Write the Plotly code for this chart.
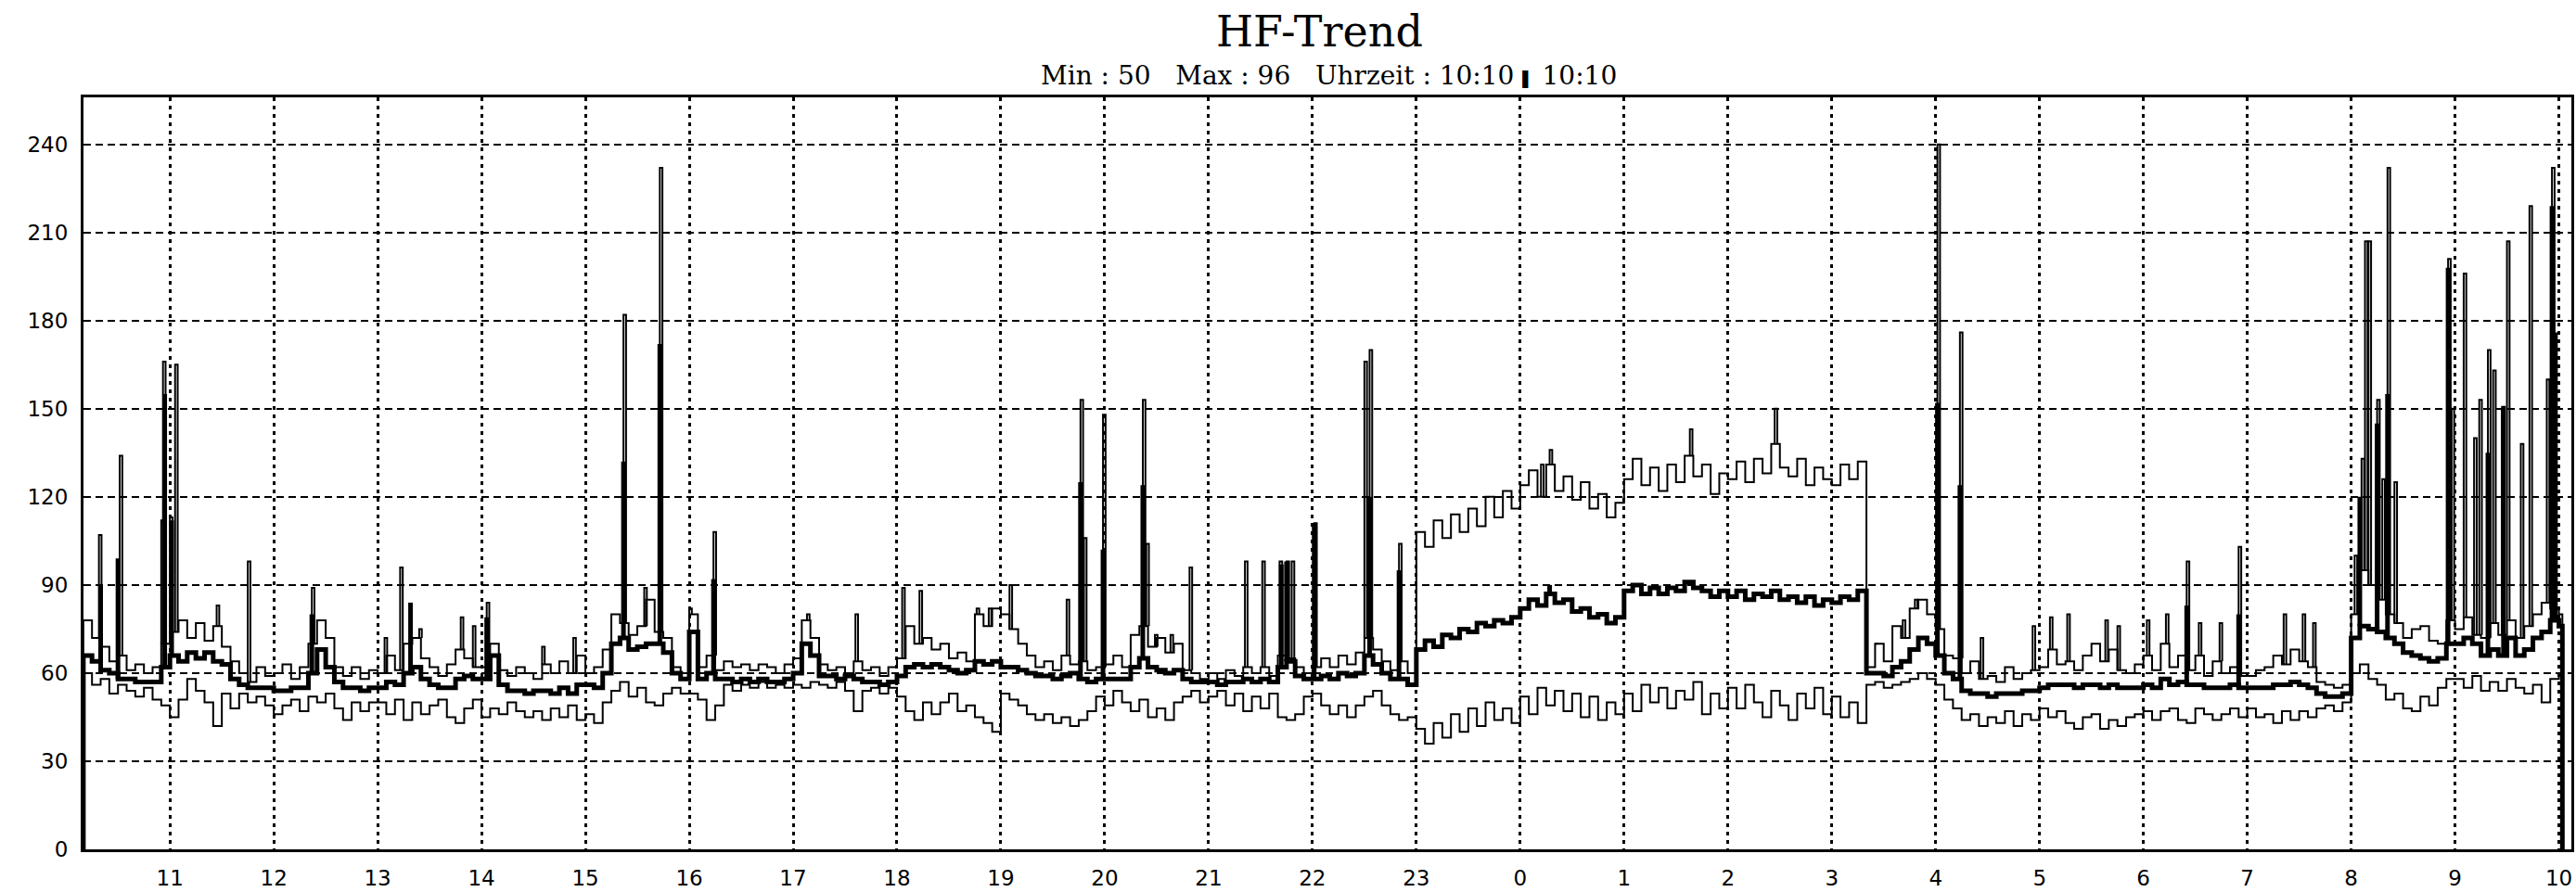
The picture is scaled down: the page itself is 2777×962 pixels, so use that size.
import plotly.graph_objects as go

# ---------------- data ----------------
START = "10:10"          # first sample
END_DROP = "10:02"       # recording stops (value drops to 0)
STEP_MIN = 5             # sampling step of the series below (minutes)
EDGE_VALUE = 0           # value at start / stop of recording

# upper envelope (thin line), one row per clock hour
UPPER = [
    78, 72, 69, 64, 66, 61, 63, 60, 62, 70,                    # 10:10-10:55
    74, 78, 72, 77, 71, 76, 69, 64, 60, 57, 62, 59,            # 11
    60, 63, 58, 62, 70, 78, 72, 62, 59, 62, 58, 61,            # 12
    60, 66, 61, 70, 72, 65, 62, 59, 63, 68, 65, 62,            # 13
    62, 70, 61, 59, 62, 60, 58, 63, 60, 64, 60, 66,            # 14
    60, 62, 68, 80, 77, 73, 76, 85, 74, 72, 62, 60,            # 15
    80, 62, 66, 61, 64, 62, 63, 61, 63, 62, 60, 63,            # 16
    65, 78, 72, 63, 61, 62, 60, 64, 61, 62, 59, 62,            # 17
    65, 76, 70, 72, 68, 70, 65, 67, 64, 80, 76, 82,            # 18
    80, 75, 70, 66, 62, 64, 61, 66, 63, 64, 61, 62,            # 19
    63, 66, 62, 73, 76, 69, 72, 67, 70, 61, 60, 58,            # 20
    60, 58, 61, 59, 62, 60, 62, 59, 66, 65, 62, 60,            # 21
    62, 65, 62, 66, 63, 67, 72, 68, 64, 61, 64, 60,            # 22
    108, 103, 112, 106, 114, 108, 116, 110, 120, 113, 122, 116,  # 23
    124, 129, 120, 131, 122, 127, 119, 125, 116, 121, 113, 118,  # 0
    126, 133, 124, 130, 122, 131, 125, 134, 127, 131, 121, 128,  # 1
    126, 132, 125, 133, 128, 138, 130, 127, 133, 124, 130, 126,  # 2
    124, 131, 126, 132, 62, 70, 64, 76, 72, 82, 85, 80,        # 3
    75, 66, 65, 60, 64, 58, 59, 57, 62, 58, 60, 61,            # 4
    62, 68, 63, 64, 61, 66, 70, 64, 68, 61, 60, 63,            # 5
    66, 61, 70, 62, 66, 61, 66, 59, 64, 60, 62, 59,            # 6
    59, 61, 62, 66, 63, 68, 64, 62, 57, 56, 55, 56,            # 7
    80, 95, 90, 85, 80, 77, 72, 75, 76, 71, 70, 78,            # 8
    75, 79, 73, 72, 77, 73, 78, 72, 76, 80, 84, 82,            # 9
    80,                                                        # 10:00
]

# mean (thick line)
MEAN = [
    66, 64, 61, 60, 58, 58, 57, 57, 57, 62,
    66, 64, 67, 65, 67, 64, 63, 58, 56, 55, 55, 55,
    54, 54, 55, 55, 60, 68, 62, 57, 55, 55, 54, 55,
    55, 57, 56, 60, 62, 58, 56, 55, 55, 58, 59, 58,
    58, 66, 56, 54, 54, 53, 54, 54, 53, 55, 53, 56,
    56, 55, 60, 70, 72, 68, 69, 70, 70, 67, 60, 58,
    74, 58, 60, 58, 58, 57, 58, 57, 58, 57, 57, 58,
    60, 70, 66, 59, 59, 58, 59, 58, 57, 57, 56, 57,
    59, 62, 63, 62, 63, 62, 61, 60, 61, 64, 63, 64,
    62, 62, 61, 60, 59, 59, 58, 59, 60, 58, 57, 58,
    58, 58, 58, 62, 65, 62, 61, 60, 61, 58, 57, 57,
    57, 56, 57, 57, 58, 57, 58, 57, 62, 64, 59, 58,
    58, 59, 58, 60, 59, 60, 66, 63, 60, 58, 58, 56,
    68, 71, 69, 73, 72, 75, 74, 77, 76, 78, 77, 79,
    82, 85, 83, 87, 84, 85, 81, 82, 79, 80, 77, 79,
    88, 90, 87, 89, 87, 89, 88, 91, 89, 88, 86, 88,
    86, 88, 85, 87, 86, 88, 85, 86, 84, 86, 83, 85,
    84, 86, 85, 88, 60, 60, 59, 62, 64, 68, 72, 70,
    66, 60, 58, 54, 53, 53, 52, 53, 53, 53, 54, 54,
    55, 56, 56, 56, 55, 56, 56, 55, 56, 55, 55, 55,
    56, 55, 58, 56, 57, 56, 56, 55, 55, 55, 56, 55,
    55, 55, 55, 56, 56, 57, 56, 55, 53, 52, 52, 53,
    72, 76, 75, 74, 72, 70, 67, 66, 65, 64, 65, 70,
    70, 72, 70, 66, 68, 66, 72, 66, 68, 72, 74, 78,
    76,
]

# lower envelope (thin line)
LOWER = [
    60, 56, 58, 53, 56, 54, 52, 55, 51, 49,
    45, 51, 58, 54, 50, 42, 53, 48, 53, 50, 52, 49,
    46, 49, 51, 47, 52, 50, 53, 48, 44, 50, 47, 50,
    50, 46, 51, 44, 50, 46, 49, 51, 45, 43, 48, 51,
    45, 48, 46, 50, 47, 45, 47, 44, 48, 45, 49, 44,
    46, 43, 50, 54, 57, 52, 55, 50, 49, 53, 55, 53,
    53, 51, 44, 49, 56, 54, 56, 55, 57, 55, 56, 55,
    56, 55, 57, 56, 55, 57, 54, 47, 54, 55, 53, 55,
    52, 47, 44, 50, 46, 50, 53, 47, 49, 45, 43, 40,
    53, 51, 49, 46, 44, 46, 43, 45, 42, 44, 47, 52,
    49, 54, 50, 47, 51, 45, 48, 44, 50, 52, 54, 50,
    52, 54, 49, 53, 47, 52, 48, 53, 45, 44, 46, 52,
    53, 49, 46, 49, 45, 49, 52, 54, 49, 46, 44, 45,
    41, 36, 43, 38, 46, 40, 48, 42, 50, 44, 48, 43,
    52, 46, 55, 49, 54, 47, 53, 45, 52, 44, 50, 46,
    53, 47, 56, 50, 55, 48, 54, 51, 57, 46, 53, 48,
    55, 48, 56, 50, 45, 54, 49, 44, 53, 48, 55, 46,
    52, 45, 50, 43, 56, 57, 55, 56, 57, 58, 60, 58,
    56, 51, 48, 44, 46, 42, 45, 43, 47, 42, 46, 44,
    48, 45, 47, 43, 41, 45, 46, 41, 44, 42, 45, 46,
    47, 44, 47, 48, 44, 43, 48, 46, 44, 46, 48, 45,
    48, 45, 46, 43, 47, 44, 47, 45, 48, 49, 47, 50,
    60, 63, 58, 56, 51, 53, 48, 47, 52, 49, 55, 58,
    58, 55, 59, 54, 57, 54, 58, 55, 53, 56, 50, 58,
    60,
]

# short peaks of the upper envelope
UP_SPIKE_TIME = ["10:19", "10:31", "10:55", "10:56", "11:00", "11:03", "11:27", "11:45",
                 "12:22", "13:04", "13:13", "13:24", "13:48", "13:55", "14:03", "14:35",
                 "14:53", "15:22", "15:34", "15:43", "16:00", "16:14", "17:08", "17:36",
                 "18:03", "18:13", "18:46", "18:53", "19:05", "19:38", "19:46", "19:48",
                 "19:59", "20:22", "20:24", "20:29", "20:38", "20:49", "21:21", "21:31",
                 "21:41", "21:45", "21:48", "22:01", "22:30", "22:33", "22:50", "0:12",
                 "0:17", "1:38", "2:27", "3:25", "3:41", "3:48", "4:01", "4:14", "4:26",
                 "4:56", "5:06", "5:16", "5:38", "5:45", "6:02", "6:13", "6:25", "6:32",
                 "6:44", "6:55", "7:21", "7:32", "7:38", "8:02", "8:06", "8:08", "8:10",
                 "8:15", "8:18", "8:21", "8:25", "8:56", "8:58", "9:05", "9:11", "9:14",
                 "9:19", "9:22", "9:27", "9:30", "9:38", "9:43", "9:53", "9:56"]
UP_SPIKE_PEAK = [107, 134, 112, 166, 113, 165, 83, 98,
                 89, 72, 96, 75, 79, 76, 84, 69,
                 72, 182, 89, 232, 82, 108, 80, 80,
                 89, 88, 82, 82, 90, 85, 153, 106,
                 148, 153, 104, 73, 73, 96, 98, 98,
                 98, 98, 98, 111, 166, 170, 104, 131,
                 136, 143, 150, 70, 78, 85, 240, 176, 72,
                 76, 79, 80, 78, 76, 78, 80, 98, 77,
                 77, 103, 80, 80, 77, 100, 133, 207, 207,
                 153, 126, 232, 125, 201, 150, 196, 140, 153,
                 170, 163, 150, 207, 138, 219, 160, 232]

# short peaks of the mean
MEAN_SPIKE_TIME = ["10:20", "10:30", "10:57", "11:01", "12:22", "13:19", "14:03", "15:22",
                   "15:43", "16:14", "19:46", "19:59", "20:22", "21:42", "21:45", "22:01",
                   "22:33", "22:50", "0:17", "4:01", "4:14", "6:25", "6:55", "8:05",
                   "8:15", "8:21", "8:56", "9:19", "9:28", "9:56", "9:58"]
MEAN_SPIKE_PEAK = [90, 99, 155, 112, 80, 84, 79, 132,
                   172, 92, 125, 102, 124, 97, 98, 111,
                   120, 95, 90, 152, 124, 83, 80, 120,
                   145, 155, 198, 135, 151, 219, 176]

HOUR_TICKS = list(range(11, 35))
HOUR_LABELS = [str(h % 24) for h in HOUR_TICKS]
Y_TICKS = [0, 30, 60, 90, 120, 150, 180, 210, 240]

TITLE = "HF-Trend"
SUBTITLE = ("Min\u00a0:\u00a050\u00a0\u00a0\u00a0Max\u00a0:\u00a096\u00a0\u00a0\u00a0"
            "Uhrzeit\u00a0:\u00a010:10\u00a0<span style='font-size:16px'>\u258c</span>\u00a010:10")


# ---------------- helpers ----------------
def to_h(s):
    h, m = s.split(":")
    v = int(h) + int(m) / 60.0
    return v + 24 if v < 10.1 else v


t0 = to_h(START)
grid_t = [t0 + i * STEP_MIN / 60.0 for i in range(len(UPPER))]
t_end = to_h(END_DROP)


def series_xy(vals):
    return [grid_t[0]] + grid_t + [t_end], [EDGE_VALUE] + list(vals) + [EDGE_VALUE]


def base_at(vals, t):
    i = int((t - t0) * 60 / STEP_MIN + 1e-9)
    i = max(0, min(len(vals) - 1, i))
    return vals[i]


def pulses(times, peaks, vals, w):
    xs, ys = [], []
    for s, p in zip(times, peaks):
        t = to_h(s)
        b = base_at(vals, t)
        xs += [t, t, t + w, t + w, None]
        ys += [b, p, p, b, None]
    return xs, ys


def sticks(times, peaks, vals):
    xs, ys = [], []
    for s, p in zip(times, peaks):
        t = to_h(s)
        b = base_at(vals, t)
        xs += [t, t, None]
        ys += [b, p, None]
    return xs, ys


# ---------------- figure ----------------
fig = go.Figure()
BLACK = "#000000"

for vals, width in [(LOWER, 2), (UPPER, 2)]:
    x, y = series_xy(vals)
    fig.add_trace(go.Scatter(x=x, y=y, mode="lines", line=dict(color=BLACK, width=width, shape="hv"),
                             hoverinfo="skip"))

sx, sy = pulses(UP_SPIKE_TIME, UP_SPIKE_PEAK, UPPER, 1.5 / 60)
fig.add_trace(go.Scatter(x=sx, y=sy, mode="lines", line=dict(color=BLACK, width=2), hoverinfo="skip"))

x, y = series_xy(MEAN)
fig.add_trace(go.Scatter(x=x, y=y, mode="lines", line=dict(color=BLACK, width=5, shape="hv"),
                         hoverinfo="skip"))

mx, my = sticks(MEAN_SPIKE_TIME, MEAN_SPIKE_PEAK, MEAN)
fig.add_trace(go.Scatter(x=mx, y=my, mode="lines", line=dict(color=BLACK, width=5), hoverinfo="skip"))

tick_font = dict(family="DejaVu Sans", size=23, color=BLACK)

fig.update_layout(
    width=2777, height=962,
    margin=dict(l=90, r=2, t=105, b=34),
    paper_bgcolor="white", plot_bgcolor="white",
    showlegend=False,
    xaxis=dict(range=[10.168, 34.12], tickvals=HOUR_TICKS, ticktext=HOUR_LABELS,
               showgrid=True, gridcolor=BLACK, gridwidth=3, griddash="4px,5px",
               showline=True, linecolor=BLACK, linewidth=3, mirror=True,
               ticks="outside", ticklen=8, tickcolor="rgba(0,0,0,0)",
               tickfont=tick_font, zeroline=False, fixedrange=True),
    yaxis=dict(range=[0, 256], tickvals=Y_TICKS,
               showgrid=True, gridcolor=BLACK, gridwidth=2, griddash="8px,5px",
               showline=True, linecolor=BLACK, linewidth=3, mirror=True,
               ticks="outside", ticklen=9, tickcolor="rgba(0,0,0,0)",
               tickfont=tick_font, zeroline=False, fixedrange=True),
    annotations=[
        dict(text=TITLE, xref="paper", yref="paper", x=0.497, y=1.087,
             xanchor="center", yanchor="middle", showarrow=False,
             font=dict(family="DejaVu Serif", size=46, color=BLACK)),
        dict(text=SUBTITLE, xref="paper", yref="paper", x=0.5007, y=1.0292,
             xanchor="center", yanchor="middle", showarrow=False,
             font=dict(family="DejaVu Serif", size=28, color=BLACK)),
    ],
)

fig.write_html("out.html")
